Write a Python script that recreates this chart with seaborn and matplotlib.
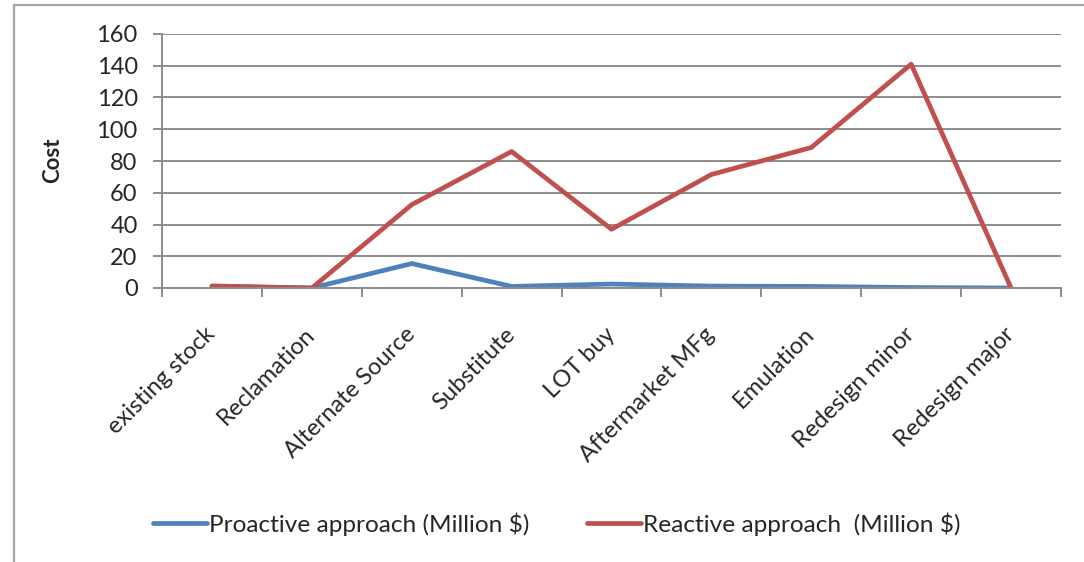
import numpy as np
import pandas as pd
import matplotlib
matplotlib.use("Agg")
import matplotlib.pyplot as plt
from matplotlib.patches import Rectangle
from matplotlib.ticker import FixedLocator
import seaborn as sns

categories = ["existing stock", "Reclamation", "Alternate Source", "Substitute",
              "LOT buy", "Aftermarket MFg", "Emulation", "Redesign minor",
              "Redesign major"]
proactive = [1, 0, 15.4, 1, 2.5, 1.2, 1, 0.3, 0]
reactive = [1.3, 0, 52.5, 86, 37, 71.5, 88.5, 141, 0]
series_names = ["Proactive approach (Million $)", "Reactive approach  (Million $)"]
y_ticks = [0, 20, 40, 60, 80, 100, 120, 140, 160]

df = pd.DataFrame({
    "category": categories * 2,
    "cost": proactive + reactive,
    "series": [series_names[0]] * len(categories) + [series_names[1]] * len(categories),
})

sns.set_theme(style="white")
plt.rcParams["font.family"] = ["Lato", "DejaVu Sans"]

FS = 17
W, H = 1084, 562
fig = plt.figure(figsize=(W / 100, H / 100), dpi=100)
ax = fig.add_axes([162 / W, 1 - 288 / H, (1061 - 162) / W, (288 - 34) / H])

grid_col = "#8c8c8c"
sns.lineplot(data=df, x="category", y="cost", hue="series", sort=False,
             palette=["#4F81BD", "#C0504D"], linewidth=3.4, ax=ax,
             legend=True)

ax.set_ylim(0, 160)
ax.set_xlim(-0.5, len(categories) - 0.5)
ax.set_yticks(y_ticks)
ax.set_yticklabels([str(v) for v in y_ticks], fontsize=FS)
ax.yaxis.grid(True, color=grid_col, linewidth=1.4)
ax.set_axisbelow(True)

# category labels at centers, tick marks at category boundaries
ax.set_xticks(range(len(categories)))
ax.set_xticklabels(categories, rotation=45, ha="right", va="center",
                   rotation_mode="anchor", fontsize=FS)
ax.xaxis.set_minor_locator(FixedLocator(np.arange(-0.5, len(categories), 1.0)))
ax.tick_params(axis="x", which="major", length=0, pad=31)
ax.tick_params(axis="x", which="minor", length=6.5, width=1.4, color=grid_col,
               direction="out", bottom=True)
ax.tick_params(axis="y", length=6.5, width=1.4, color=grid_col, direction="out",
               left=True, pad=11)

for side in ["top", "right"]:
    ax.spines[side].set_visible(False)
for side in ["left", "bottom"]:
    ax.spines[side].set_color(grid_col)
    ax.spines[side].set_linewidth(1.4)

ax.set_xlabel("")
ax.set_ylabel("Cost", fontsize=FS - 1, fontweight="bold")
ax.yaxis.set_label_coords((63 - 162) / (1061 - 162), (288 - 160) / (288 - 34))

handles, labels = ax.get_legend_handles_labels()
ax.legend_.remove()
fig.legend(handles, labels, loc="center left",
           bbox_to_anchor=(153 / W, 1 - 524 / H), ncol=2, frameon=False,
           fontsize=17.6, handlelength=2.2, handletextpad=0.1,
           columnspacing=2.35, borderpad=0, borderaxespad=0)

# outer chart frame
fig.patches.append(Rectangle((14 / W, -0.1), 1.2, 1 - 5 / H + 0.1,
                             transform=fig.transFigure, fill=False,
                             edgecolor="#a6a6a6", linewidth=1.6))

fig.savefig("out.png", dpi=100, facecolor="white")
